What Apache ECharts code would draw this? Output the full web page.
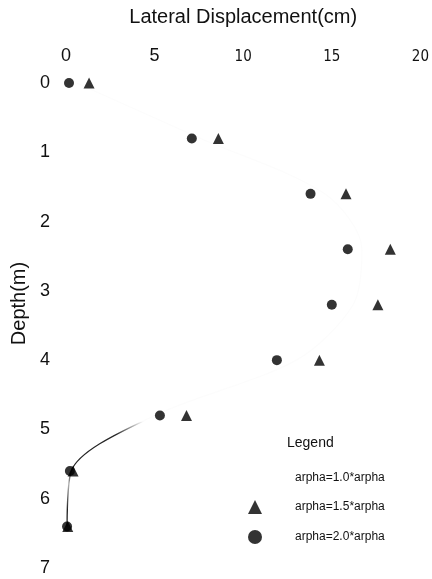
<!DOCTYPE html>
<html>
<head>
<meta charset="utf-8">
<script src="https://cdn.jsdelivr.net/npm/echarts@6/dist/echarts.min.js"></script>
<style>
html,body{margin:0;padding:0;background:#fff;}
#chart{width:432px;height:579px;}
</style>
</head>
<body>
<div id="chart"></div>
<script>
// Data
var depths = [0, 0.8, 1.6, 2.4, 3.2, 4.0, 4.8, 5.6, 6.4];
var disp10 = [0.6, 7.6, 14.6, 16.7, 16.2, 13.0, 5.0, 0.3, 0.06];
var disp15 = [1.3, 8.6, 15.8, 18.3, 17.6, 14.3, 6.8, 0.4, 0.1];
var disp20 = [0.17, 7.1, 13.8, 15.9, 15.0, 11.9, 5.3, 0.22, 0.06];
var seriesNames = ['arpha=1.0*arpha', 'arpha=1.5*arpha', 'arpha=2.0*arpha'];
var xTicks = [0, 5, 10, 15, 20];
var yTicks = [0, 1, 2, 3, 4, 5, 6, 7];

function pairs(xs) { return xs.map(function (v, i) { return [v, depths[i]]; }); }

var FONT = 'Liberation Sans, Arial, sans-serif';
var chart = echarts.init(document.getElementById('chart'), null, {renderer: 'canvas'});
chart.setOption({
  backgroundColor: '#fff',
  animation: false,
  title: {
    text: 'Legend', left: 282, top: 431,
    textStyle: {fontFamily: FONT, fontSize: 14, fontWeight: 'normal', color: '#111'}
  },
  grid: {left: 66, right: 10, top: 83, bottom: 11, containLabel: false},
  xAxis: {
    type: 'value', position: 'top', min: xTicks[0], max: xTicks[xTicks.length - 1], interval: 5,
    name: 'Lateral Displacement(cm)', nameLocation: 'middle', nameGap: 56,
    nameTextStyle: {fontFamily: FONT, fontSize: 20, color: '#111'},
    axisLine: {show: false}, axisTick: {show: false}, splitLine: {show: false},
    axisLabel: {
      margin: 18, color: '#111', fontFamily: FONT, fontSize: 18,
      formatter: function (v) { return v >= 10 ? '{n|' + v + '}' : String(v); },
      rich: {n: {fontFamily: 'Liberation Sans Narrow, DejaVu Sans Condensed, sans-serif', fontSize: 15, color: '#111'}}
    }
  },
  yAxis: {
    type: 'value', inverse: true, min: yTicks[0], max: yTicks[yTicks.length - 1], interval: 1,
    name: 'Depth(m)', nameLocation: 'middle', nameGap: 34, nameRotate: 90,
    nameTextStyle: {fontFamily: FONT, fontSize: 20, color: '#111', padding: [0, 0, 0, 44]},
    axisLine: {show: false}, axisTick: {show: false}, splitLine: {show: false},
    axisLabel: {margin: 16, color: '#111', fontFamily: FONT, fontSize: 18}
  },
  legend: {
    orient: 'vertical', left: 242, top: 467, itemWidth: 14, itemHeight: 14, itemGap: 16,
    textStyle: {fontFamily: FONT, fontSize: 12, color: '#111', padding: [0, 0, 0, 28]},
    data: [
      {name: seriesNames[0], itemStyle: {opacity: 0}, lineStyle: {opacity: 0}},
      {name: seriesNames[1], icon: 'triangle'},
      {name: seriesNames[2], icon: 'circle'}
    ]
  },
  series: [
    {
      name: seriesNames[0], type: 'line', data: pairs(disp10), smooth: 0.3,
      showSymbol: false, symbol: 'none', color: '#111',
      lineStyle: {
        width: 1.2,
        color: {type: 'linear', x: 0, y: 0, x2: 0, y2: 1, colorStops: [
          {offset: 0, color: 'rgba(0,0,0,0.01)'},
          {offset: 0.76, color: 'rgba(0,0,0,0.01)'},
          {offset: 0.79, color: 'rgba(0,0,0,0.85)'},
          {offset: 0.87, color: 'rgba(0,0,0,0.85)'},
          {offset: 0.9, color: 'rgba(0,0,0,0.3)'},
          {offset: 0.96, color: 'rgba(0,0,0,0.9)'},
          {offset: 1, color: 'rgba(0,0,0,0.9)'}
        ]}
      },
      z: 1
    },
    {
      name: seriesNames[1], type: 'scatter', data: pairs(disp15),
      symbol: 'triangle', symbolSize: 11, itemStyle: {color: '#000'}, z: 2
    },
    {
      name: seriesNames[2], type: 'scatter', data: pairs(disp20),
      symbol: 'circle', symbolSize: 10, itemStyle: {color: '#000'}, z: 3
    }
  ]
});
</script>
</body>
</html>
